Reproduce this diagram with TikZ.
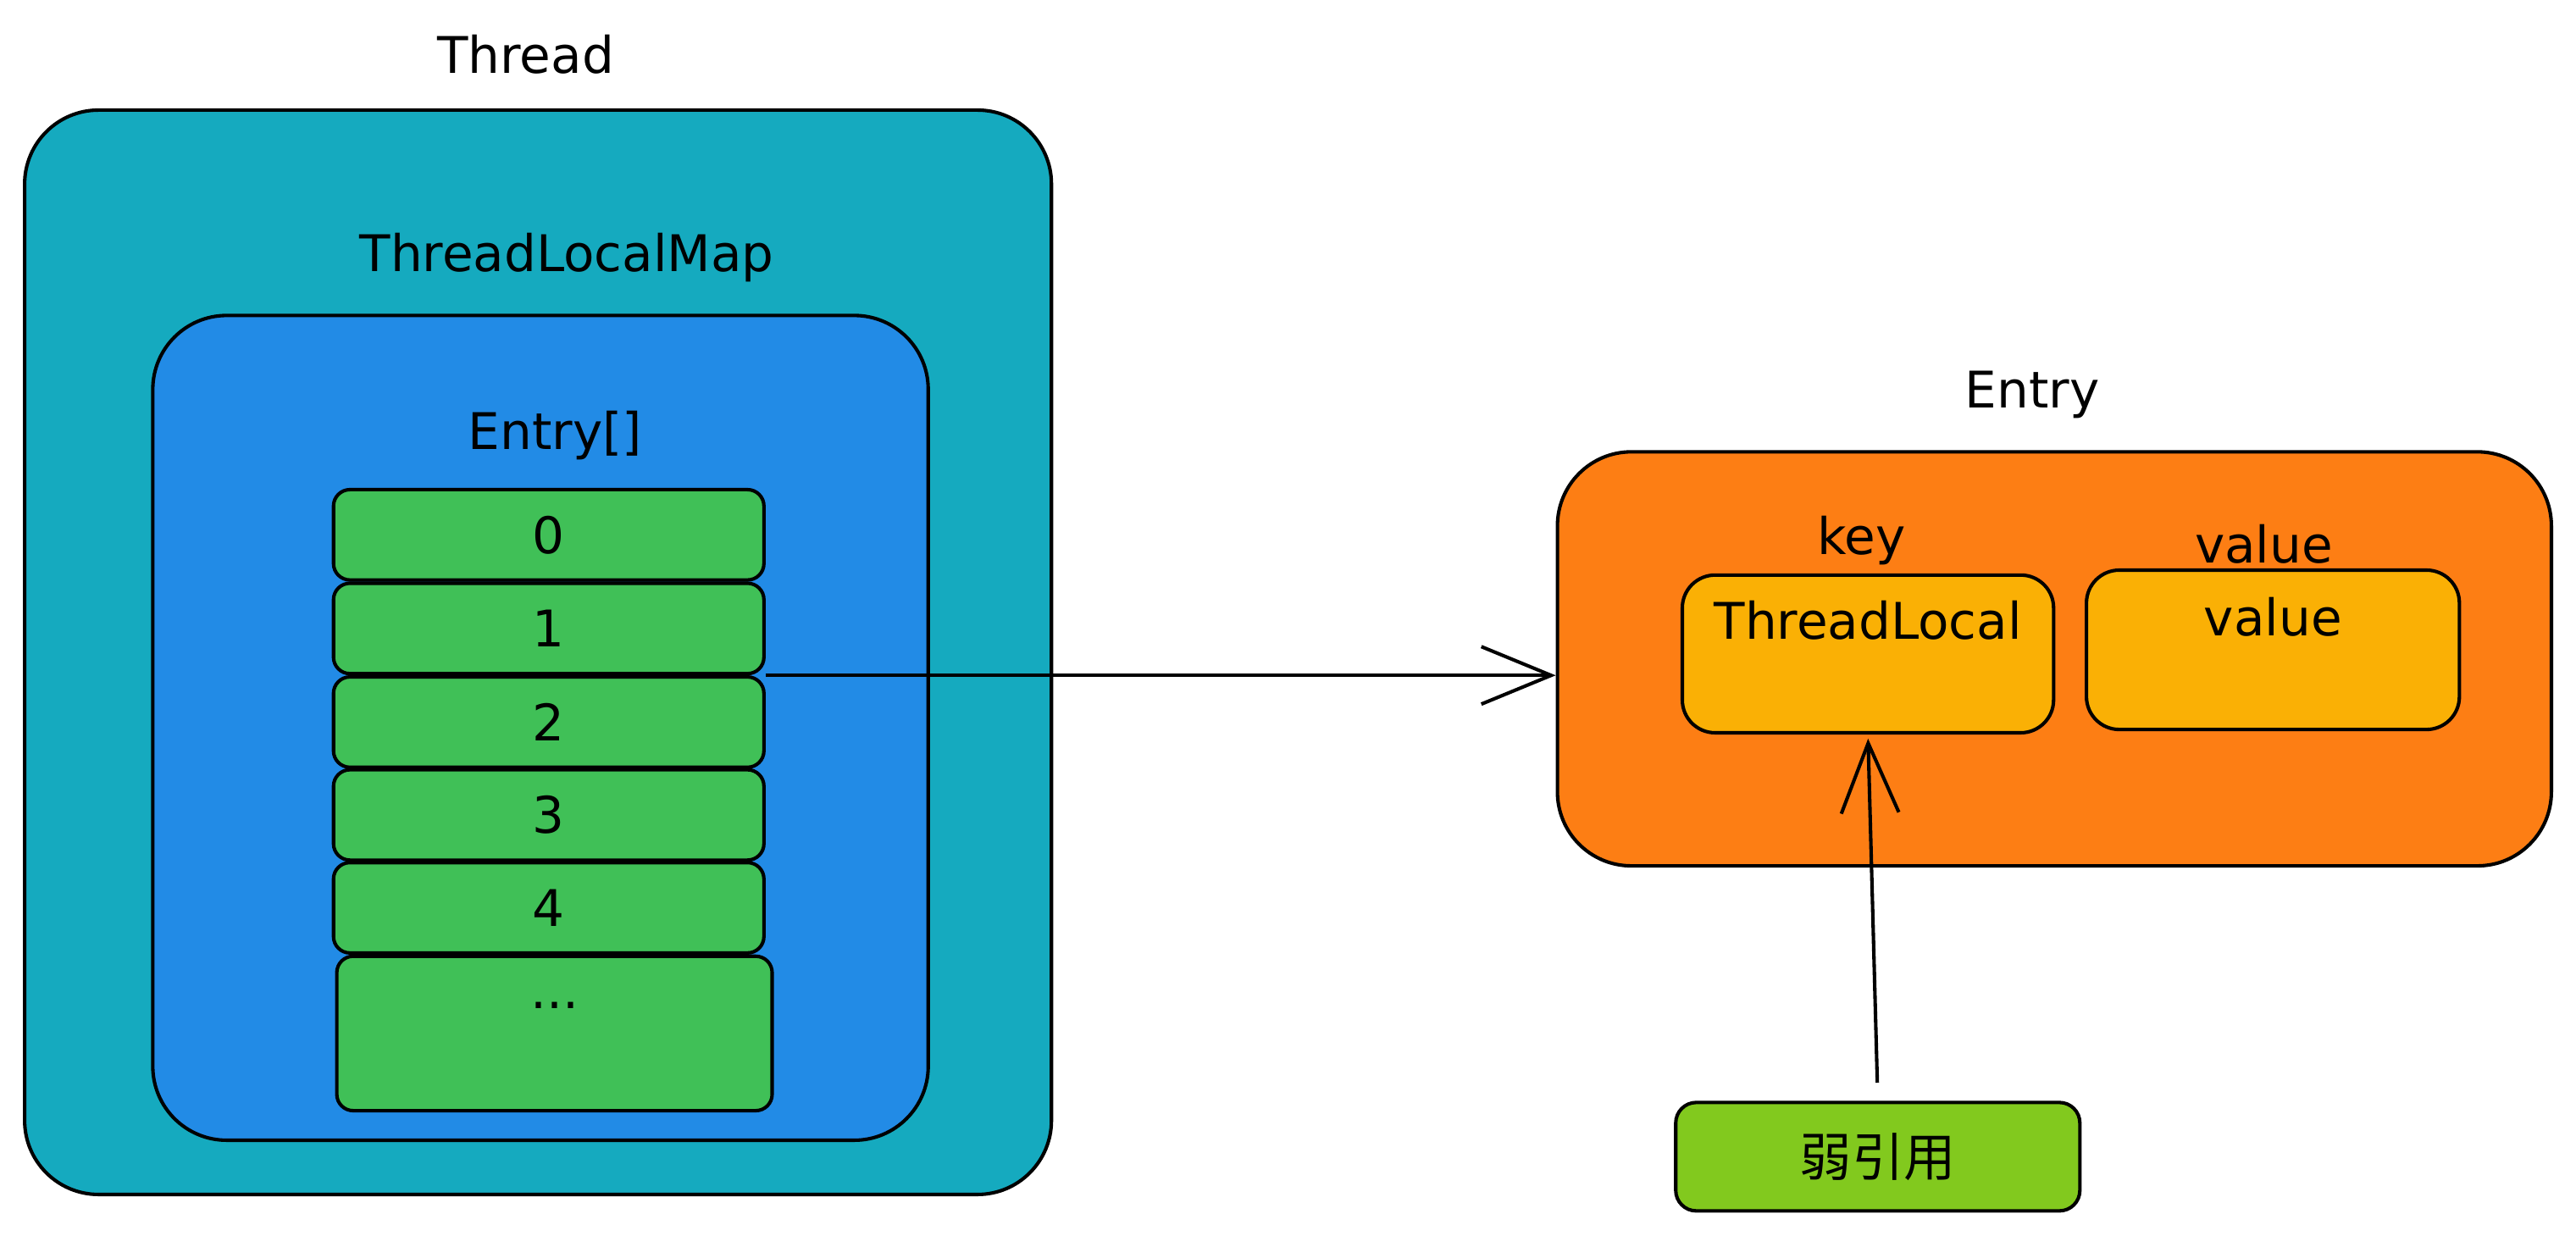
\documentclass[tikz,border=0pt]{standalone}
\usepackage{fontspec}
\setmainfont{DejaVu Sans}
\newfontfamily\cjk{Noto Sans CJK SC}
\usetikzlibrary{arrows.meta,positioning}

\definecolor{threadcol}{HTML}{15AABF}
\definecolor{mapcol}{HTML}{228BE6}
\definecolor{cellcol}{HTML}{40C057}
\definecolor{entrycol}{HTML}{FD7E14}
\definecolor{fieldcol}{HTML}{FAB005}
\definecolor{weakcol}{HTML}{82C91E}

\tikzset{
  box/.style={draw=black, line width=1.2pt, fill=#1, inner sep=0pt},
  cell/.style={box=cellcol, rounded corners=0.2cm, minimum width=5.24cm, minimum height=1.1cm},
  field/.style={box=fieldcol, rounded corners=0.4cm, minimum width=4.52cm, minimum height=1.92cm},
}

\begin{document}
\begin{tikzpicture}[->, >={Straight Barb[length=0.85cm,width=0.7cm]}, line width=1.2pt,
                    font=\fontsize{17.5}{20}\selectfont]
  \useasboundingbox (0,0) rectangle (31.36,-15.04);

  % left side: Thread / ThreadLocalMap / Entry[]
  \node (threadlbl) at (6.4,-0.66) {Thread};
  \node[box=threadcol, rounded corners=0.9cm, minimum width=12.5cm, minimum height=13.2cm] (thread) at (6.55,-7.94) {};
  \node (maplbl) at (6.9,-3.14) {ThreadLocalMap};
  \node[box=mapcol, rounded corners=0.9cm, minimum width=9.44cm, minimum height=10.04cm] (map) at (6.58,-8.86) {};
  \node (arrlbl) at (6.76,-5.3) {Entry[]};

  \node[cell] (c0) at (6.68,-6.51) {0};
  \node[cell] (c1) at (6.68,-7.65) {1};
  \node[cell] (c2) at (6.68,-8.79) {2};
  \node[cell] (c3) at (6.68,-9.92) {3};
  \node[cell] (c4) at (6.68,-11.05) {4};
  \node[cell, minimum width=5.3cm, minimum height=1.88cm,
        label={[anchor=north, yshift=-0.44cm]north:...}] (cn) at (6.75,-12.58) {};

  % right side: Entry
  \node (entrylbl) at (24.74,-4.8) {Entry};
  \node[box=entrycol, rounded corners=0.9cm, minimum width=12.1cm, minimum height=5.04cm] (entry) at (25.01,-8.02) {};
  \node (keylbl) at (22.66,-6.58) {key};
  \node (vallbl) at (27.56,-6.62) {value};
  \node[field, label={[anchor=north, yshift=-0.2cm]north:ThreadLocal}] (key) at (22.74,-7.96) {};
  \node[field, minimum width=4.54cm, minimum height=1.94cm,
        label={[anchor=north, yshift=-0.22cm]north:value}] (val) at (27.67,-7.91) {};

  \node[box=weakcol, rounded corners=0.25cm, minimum width=4.92cm, minimum height=1.32cm,
        font=\cjk\fontsize{18}{20}\selectfont] (weak) at (22.86,-14.08) {弱引用};

  % references
  \draw (c1.south east) -- (c1.south east -| entry.west);
  \draw[shorten <=0.22cm, shorten >=0.05cm] (weak.north) -- (key.south);
\end{tikzpicture}
\end{document}
